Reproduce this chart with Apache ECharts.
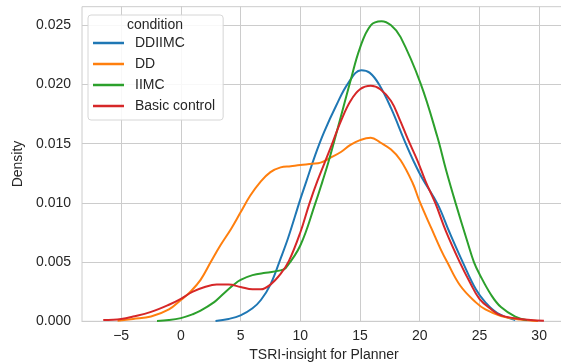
<!DOCTYPE html>
<html>
<head>
<meta charset="utf-8">
<script src="https://cdn.jsdelivr.net/npm/echarts@6/dist/echarts.min.js"></script>
<style>
  html, body { margin: 0; padding: 0; background: #fff; }
  #chart { width: 561px; height: 364px; }
</style>
</head>
<body>
<div id="chart"></div>
<script>
const conditions = ["DDIIMC", "DD", "IIMC", "Basic control"];
const colors = ["#1f77b4", "#ff7f0e", "#2ca02c", "#d62728"];

const xTicks = [-5, 0, 5, 10, 15, 20, 25, 30];
const yTicks = [0, 0.005, 0.01, 0.015, 0.02, 0.025];

// [score, density]
const ddiimc = [
  [2.9, 0.00003], [4, 0.0002], [5, 0.0005], [6, 0.0011], [6.7, 0.0018], [7.5, 0.0031],
  [8.35, 0.0053], [9, 0.0071], [10, 0.0103], [10.5, 0.0118], [11.27, 0.0141], [12, 0.016],
  [13, 0.0182], [14, 0.0201], [15.1, 0.0212], [15.8, 0.021], [16.6, 0.02], [17.6, 0.018],
  [18.75, 0.0152], [19.5, 0.0135], [20.2, 0.0121], [21.5, 0.0099], [22.5, 0.0075], [23.6, 0.005],
  [24.7, 0.0027], [25.5, 0.0016], [26.5, 0.0007], [28, 0.0001]
];
const dd = [
  [-5.3, 0.00005], [-4, 0.0002], [-2.5, 0.0004], [-1, 0.001], [0, 0.0018], [0.8, 0.0025],
  [1.65, 0.0035], [2.5, 0.005], [3.3, 0.0064], [4.2, 0.0078], [5, 0.0092], [5.8, 0.0106],
  [6.68, 0.0118], [7.5, 0.0126], [8.35, 0.013], [9.2, 0.0131], [10, 0.0132],
  [11, 0.0133], [11.7, 0.0134], [12.5, 0.0138], [13.4, 0.0143], [14.2, 0.0149], [15, 0.0153],
  [15.9, 0.0155], [16.7, 0.0151], [17.6, 0.0145], [18.4, 0.0136], [19.4, 0.0117],
  [20, 0.0101], [21, 0.0078], [21.75, 0.0061], [22.3, 0.005], [23.4, 0.003], [24.7, 0.0016],
  [25.5, 0.001], [26.8, 0.00045], [28.4, 0.00015], [29.9, 0.00003]
];
const iimc = [
  [-2, 0.00003], [-1, 0.0001], [0, 0.00027], [1, 0.0006], [1.65, 0.0009], [2.76, 0.0016],
  [3.32, 0.0021], [4.44, 0.0031], [5, 0.0035], [6, 0.0039], [7.1, 0.0041], [8.35, 0.0043],
  [8.77, 0.0045], [10, 0.0064], [11.27, 0.01], [11.85, 0.0118], [12.4, 0.0136], [13.4, 0.0173],
  [14.2, 0.0203], [15, 0.0231], [15.9, 0.025], [16.8, 0.02535], [17.6, 0.025], [18.4, 0.024],
  [20.07, 0.0201], [21.47, 0.0156], [22.2, 0.0128], [23, 0.01], [24, 0.0067], [24.54, 0.005],
  [25, 0.004], [26, 0.0022], [26.8, 0.0012], [28, 0.0004], [29, 0.0001]
];
const basicControl = [
  [-6.5, 0.0001], [-5, 0.0002], [-4, 0.0004], [-2.5, 0.0008], [-1, 0.0014], [0, 0.0019],
  [1, 0.0025], [2, 0.0029], [3, 0.0031], [4, 0.0031], [5, 0.0029], [6, 0.0027], [6.7, 0.0027],
  [7.5, 0.0031], [8.35, 0.004], [9.05, 0.0051], [10, 0.0075], [10.75, 0.0099], [11.45, 0.0119],
  [12.4, 0.0143], [13.4, 0.0169], [14.2, 0.0186], [15, 0.0196], [15.9, 0.0199], [16.7, 0.0196],
  [17.6, 0.0186], [18.3, 0.0171], [19, 0.0154], [19.8, 0.0136], [20.5, 0.0118], [21.3, 0.01],
  [22.2, 0.0076], [23.35, 0.005], [24.2, 0.0033], [25, 0.0019], [26, 0.001], [26.8, 0.0005],
  [28.4, 0.0002], [30.4, 0.00005]
];
const seriesData = [ddiimc, dd, iimc, basicControl];

const chart = echarts.init(document.getElementById("chart"));
const font = "Liberation Sans, Arial, sans-serif";

const option = {
  animation: false,
  color: colors,
  grid: {
    left: 82,
    top: 6.7,
    width: 484,
    height: 314.6,
    outerBoundsMode: "none",
    containLabel: false,
    show: true,
    borderColor: "#cccccc",
    borderWidth: 1,
  },
  legend: {
    data: conditions,
    orient: "vertical",
    left: 88,
    top: 15,
    padding: [21, 8, 7, 5],
    itemGap: 7,
    itemWidth: 31,
    itemHeight: 2.5,
    icon: "rect",
    backgroundColor: "rgba(255,255,255,0.85)",
    borderColor: "#d6d6d6",
    borderWidth: 1,
    borderRadius: 3,
    textStyle: {
      fontFamily: font,
      fontSize: 14,
      color: "#262626",
      padding: [0, 0, 0, 6],
    },
  },
  graphic: [
    {
      type: "text",
      z: 100,
      x: 155,
      y: 25,
      style: {
        text: "condition",
        fontFamily: font,
        fontSize: 14,
        fill: "#262626",
        align: "center",
        verticalAlign: "middle",
      },
    },
  ],
  xAxis: {
    type: "value",
    min: -8.28,
    max: 32.25,
    name: "TSRI-insight for Planner",
    nameLocation: "middle",
    nameGap: 27,
    nameTextStyle: { fontFamily: font, fontSize: 14, color: "#262626" },
    axisLine: { show: true, onZero: false, lineStyle: { color: "#cccccc", width: 1 } },
    axisTick: { show: false, customValues: xTicks },
    axisLabel: {
      customValues: xTicks,
      margin: 8,
      fontFamily: font,
      fontSize: 14,
      color: "#262626",
      formatter: (v) => (v < 0 ? "\u2212" + Math.abs(v) : String(v)),
    },
    splitLine: { show: true, lineStyle: { color: "#cccccc", width: 1 } },
  },
  yAxis: {
    type: "value",
    min: 0,
    max: 0.02657,
    name: "Density",
    nameLocation: "middle",
    nameGap: 53,
    nameTextStyle: { fontFamily: font, fontSize: 14, color: "#262626" },
    axisLine: { show: true, lineStyle: { color: "#cccccc", width: 1 } },
    axisTick: { show: false, customValues: yTicks },
    axisLabel: {
      customValues: yTicks,
      margin: 11,
      fontFamily: font,
      fontSize: 14,
      color: "#262626",
      formatter: (v) => v.toFixed(3),
    },
    splitLine: { show: true, lineStyle: { color: "#cccccc", width: 1 } },
  },
  series: conditions.map((name, i) => ({
    name: name,
    type: "line",
    data: seriesData[i],
    smooth: 0.4,
    showSymbol: false,
    symbol: "none",
    lineStyle: { width: 2, color: colors[i] },
    itemStyle: { color: colors[i] },
  })),
};

chart.setOption(option);
</script>
</body>
</html>
